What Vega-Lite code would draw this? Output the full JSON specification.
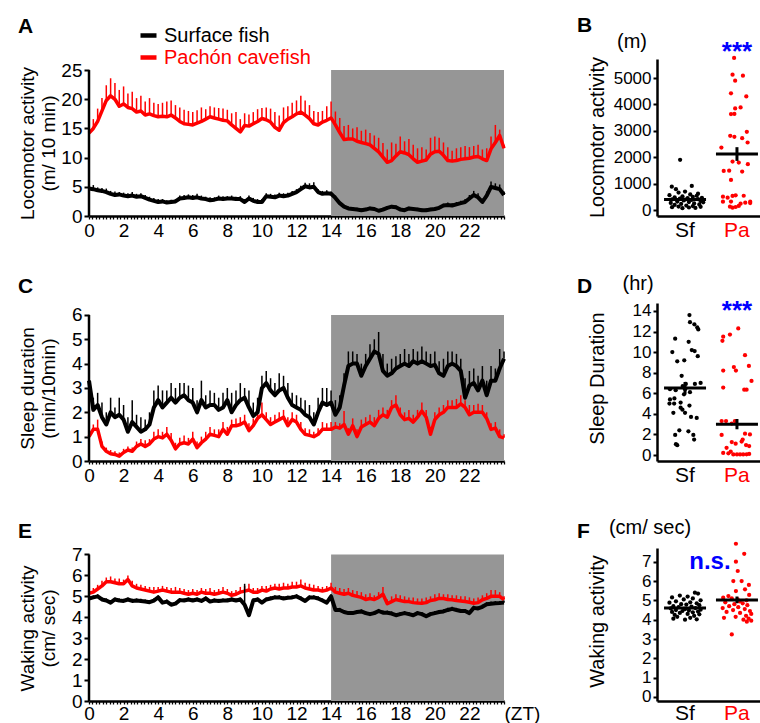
{
"$schema": "https://vega.github.io/schema/vega-lite/v6.json",
"padding": {"left": 17, "top": 14, "right": 0, "bottom": 0},
"background": "white",
"config": {
 "font": "Liberation Sans",
 "view": {"stroke": null},
 "axis": {"domainColor": "#000", "domainWidth": 2.5, "tickColor": "#000", "tickWidth": 2, "labelColor": "#000", "titleColor": "#000", "grid": false, "labelFont": "Liberation Sans", "titleFont": "Liberation Sans", "titleFontWeight": "normal", "labelFontSize": 19, "titleFontSize": 19, "labelOverlap": false},
 "text": {"font": "Liberation Sans"}
},
"columns": 2,
"spacing": {"row": 87, "column": 153},
"bounds": "flush",
"resolve": {"scale": {"color": "independent"}},
"datasets": {
"ts": [
{"t":0,"a":4.7,"au":5.1,"b":14.2,"bu":15.9,"c":3.3,"cu":3.6,"d":1.0,"du":1.2,"e":4.9,"eu":5.0,"f":5.15,"fu":5.35},
{"t":0.25,"a":4.6,"au":5.3,"b":15.0,"bu":16.6,"c":2.1,"cu":2.6,"d":1.3,"du":1.5,"e":4.95,"eu":5.05,"f":5.2,"fu":5.4},
{"t":0.5,"a":4.4,"au":4.9,"b":16.2,"bu":18.4,"c":2.3,"cu":2.8,"d":1.3,"du":1.7,"e":5.0,"eu":5.1,"f":5.35,"fu":5.55},
{"t":0.75,"a":4.3,"au":4.8,"b":18.0,"bu":20.2,"c":1.8,"cu":2.4,"d":0.6,"du":0.8,"e":4.85,"eu":4.95,"f":5.5,"fu":5.75},
{"t":1,"a":4.1,"au":4.7,"b":19.8,"bu":22.4,"c":1.5,"cu":2.0,"d":0.4,"du":0.55,"e":4.8,"eu":4.9,"f":5.7,"fu":5.9},
{"t":1.25,"a":3.8,"au":4.3,"b":20.6,"bu":23.6,"c":2.0,"cu":2.6,"d":0.3,"du":0.45,"e":4.7,"eu":4.8,"f":5.7,"fu":5.95},
{"t":1.5,"a":3.6,"au":4.2,"b":20.0,"bu":22.8,"c":1.8,"cu":2.2,"d":0.27,"du":0.4,"e":4.85,"eu":4.95,"f":5.65,"fu":5.85},
{"t":1.75,"a":3.7,"au":4.1,"b":18.8,"bu":21.6,"c":1.9,"cu":2.6,"d":0.2,"du":0.35,"e":4.8,"eu":4.9,"f":5.6,"fu":5.85},
{"t":2,"a":3.5,"au":4.0,"b":19.2,"bu":22.2,"c":1.7,"cu":2.3,"d":0.35,"du":0.5,"e":4.78,"eu":4.88,"f":5.6,"fu":5.8},
{"t":2.25,"a":3.4,"au":3.9,"b":18.6,"bu":21.0,"c":1.2,"cu":1.8,"d":0.45,"du":0.6,"e":4.85,"eu":4.95,"f":5.8,"fu":6.0},
{"t":2.5,"a":3.5,"au":4.1,"b":18.4,"bu":21.3,"c":1.6,"cu":2.5,"d":0.4,"du":0.55,"e":4.78,"eu":4.88,"f":5.5,"fu":5.75},
{"t":2.75,"a":3.3,"au":3.8,"b":17.8,"bu":20.2,"c":1.4,"cu":1.9,"d":0.6,"du":0.8,"e":4.8,"eu":4.9,"f":5.4,"fu":5.6},
{"t":3,"a":3.4,"au":3.9,"b":18.0,"bu":20.6,"c":1.2,"cu":1.8,"d":0.7,"du":0.9,"e":4.78,"eu":4.88,"f":5.35,"fu":5.55},
{"t":3.25,"a":3.1,"au":3.6,"b":17.3,"bu":19.6,"c":1.3,"cu":1.7,"d":0.6,"du":0.85,"e":4.75,"eu":4.85,"f":5.3,"fu":5.5},
{"t":3.5,"a":2.8,"au":3.3,"b":17.5,"bu":20.2,"c":1.5,"cu":2.0,"d":0.7,"du":0.9,"e":4.72,"eu":4.82,"f":5.25,"fu":5.45},
{"t":3.75,"a":2.6,"au":3.1,"b":17.2,"bu":19.4,"c":2.2,"cu":2.9,"d":0.9,"du":1.2,"e":4.8,"eu":4.9,"f":5.2,"fu":5.45},
{"t":4,"a":2.4,"au":2.9,"b":17.0,"bu":19.2,"c":2.5,"cu":3.1,"d":1.0,"du":1.3,"e":4.95,"eu":5.05,"f":5.25,"fu":5.45},
{"t":4.25,"a":2.5,"au":2.9,"b":17.1,"bu":19.4,"c":2.2,"cu":2.9,"d":0.95,"du":1.2,"e":4.7,"eu":4.8,"f":5.3,"fu":5.5},
{"t":4.5,"a":2.3,"au":2.7,"b":17.0,"bu":19.6,"c":2.4,"cu":2.9,"d":1.1,"du":1.4,"e":4.75,"eu":4.85,"f":5.25,"fu":5.45},
{"t":4.75,"a":2.4,"au":2.8,"b":17.3,"bu":19.8,"c":2.6,"cu":3.2,"d":0.85,"du":1.15,"e":4.6,"eu":4.7,"f":5.2,"fu":5.4},
{"t":5,"a":2.5,"au":2.9,"b":16.8,"bu":19.0,"c":2.4,"cu":3.0,"d":0.5,"du":0.75,"e":4.65,"eu":4.75,"f":5.2,"fu":5.45},
{"t":5.25,"a":3.0,"au":3.5,"b":16.2,"bu":18.6,"c":2.6,"cu":3.2,"d":0.7,"du":0.95,"e":4.82,"eu":4.92,"f":5.2,"fu":5.4},
{"t":5.5,"a":3.1,"au":3.6,"b":15.8,"bu":18.2,"c":2.7,"cu":3.2,"d":0.75,"du":1.05,"e":4.8,"eu":4.9,"f":5.15,"fu":5.35},
{"t":5.75,"a":3.2,"au":3.7,"b":15.7,"bu":18.0,"c":2.5,"cu":3.1,"d":0.7,"du":0.95,"e":4.85,"eu":4.95,"f":5.1,"fu":5.3},
{"t":6,"a":3.1,"au":3.6,"b":15.6,"bu":17.8,"c":2.4,"cu":3.0,"d":0.9,"du":1.2,"e":4.8,"eu":4.9,"f":5.15,"fu":5.35},
{"t":6.25,"a":3.2,"au":3.8,"b":15.9,"bu":18.1,"c":2.0,"cu":2.5,"d":0.55,"du":0.8,"e":4.85,"eu":4.95,"f":5.1,"fu":5.3},
{"t":6.5,"a":3.0,"au":3.5,"b":16.2,"bu":18.6,"c":2.5,"cu":3.3,"d":0.75,"du":1.0,"e":4.78,"eu":4.88,"f":5.2,"fu":5.4},
{"t":6.75,"a":2.9,"au":3.3,"b":16.6,"bu":18.3,"c":2.2,"cu":2.7,"d":0.9,"du":1.2,"e":4.9,"eu":5.0,"f":5.15,"fu":5.35},
{"t":7,"a":2.7,"au":3.2,"b":17.0,"bu":18.8,"c":2.3,"cu":2.9,"d":1.1,"du":1.4,"e":4.75,"eu":4.85,"f":5.15,"fu":5.4},
{"t":7.25,"a":2.8,"au":3.2,"b":16.8,"bu":18.6,"c":2.3,"cu":2.8,"d":1.05,"du":1.3,"e":4.8,"eu":4.9,"f":5.1,"fu":5.3},
{"t":7.5,"a":3.0,"au":3.5,"b":16.6,"bu":18.5,"c":2.1,"cu":2.6,"d":1.0,"du":1.3,"e":4.78,"eu":4.88,"f":5.15,"fu":5.35},
{"t":7.75,"a":2.9,"au":3.4,"b":16.4,"bu":18.4,"c":2.2,"cu":2.8,"d":1.3,"du":1.6,"e":4.8,"eu":4.9,"f":5.2,"fu":5.45},
{"t":8,"a":3.0,"au":3.4,"b":16.3,"bu":18.2,"c":2.5,"cu":3.0,"d":1.1,"du":1.4,"e":4.8,"eu":4.9,"f":5.15,"fu":5.35},
{"t":8.25,"a":3.0,"au":3.5,"b":15.6,"bu":17.6,"c":2.0,"cu":2.8,"d":1.45,"du":1.7,"e":4.85,"eu":4.95,"f":5.05,"fu":5.25},
{"t":8.5,"a":2.9,"au":3.3,"b":15.0,"bu":17.8,"c":2.3,"cu":2.9,"d":1.45,"du":1.75,"e":4.8,"eu":4.9,"f":5.1,"fu":5.3},
{"t":8.75,"a":2.9,"au":3.4,"b":14.4,"bu":16.6,"c":2.5,"cu":3.2,"d":1.5,"du":1.8,"e":4.85,"eu":4.95,"f":5.2,"fu":5.45},
{"t":9,"a":2.4,"au":2.9,"b":15.5,"bu":17.6,"c":2.6,"cu":3.0,"d":1.6,"du":1.9,"e":4.6,"eu":5.6,"f":5.25,"fu":5.5},
{"t":9.25,"a":3.0,"au":3.5,"b":15.4,"bu":17.4,"c":2.2,"cu":2.9,"d":1.25,"du":1.55,"e":4.1,"eu":4.3,"f":5.3,"fu":5.6},
{"t":9.5,"a":2.6,"au":3.1,"b":15.8,"bu":17.8,"c":1.85,"cu":2.4,"d":1.45,"du":1.75,"e":4.8,"eu":4.9,"f":5.2,"fu":5.4},
{"t":9.75,"a":2.4,"au":2.9,"b":16.2,"bu":18.3,"c":2.0,"cu":2.6,"d":1.75,"du":2.1,"e":4.85,"eu":4.95,"f":5.2,"fu":5.4},
{"t":10,"a":2.4,"au":2.9,"b":16.7,"bu":18.5,"c":3.0,"cu":3.5,"d":1.9,"du":2.4,"e":4.7,"eu":4.8,"f":5.3,"fu":5.5},
{"t":10.25,"a":3.4,"au":3.9,"b":16.5,"bu":18.6,"c":3.2,"cu":3.7,"d":1.7,"du":2.0,"e":4.85,"eu":4.95,"f":5.25,"fu":5.5},
{"t":10.5,"a":3.3,"au":3.8,"b":16.1,"bu":18.4,"c":2.9,"cu":3.4,"d":1.5,"du":1.8,"e":4.9,"eu":5.0,"f":5.35,"fu":5.55},
{"t":10.75,"a":3.2,"au":3.7,"b":15.2,"bu":17.8,"c":2.7,"cu":3.2,"d":1.6,"du":1.9,"e":4.95,"eu":5.05,"f":5.4,"fu":5.6},
{"t":11,"a":3.5,"au":4.0,"b":14.7,"bu":17.2,"c":2.9,"cu":3.6,"d":1.7,"du":2.0,"e":4.95,"eu":5.05,"f":5.35,"fu":5.6},
{"t":11.25,"a":3.4,"au":3.9,"b":16.0,"bu":18.6,"c":3.0,"cu":3.5,"d":1.8,"du":2.1,"e":4.9,"eu":5.0,"f":5.4,"fu":5.65},
{"t":11.5,"a":3.5,"au":4.0,"b":16.6,"bu":18.8,"c":2.6,"cu":3.2,"d":1.45,"du":1.8,"e":4.93,"eu":5.03,"f":5.4,"fu":5.6},
{"t":11.75,"a":3.8,"au":4.3,"b":17.0,"bu":19.4,"c":2.3,"cu":2.8,"d":1.7,"du":2.0,"e":4.95,"eu":5.05,"f":5.45,"fu":5.7},
{"t":12,"a":4.1,"au":4.6,"b":17.5,"bu":19.8,"c":2.2,"cu":2.7,"d":1.6,"du":1.9,"e":5.0,"eu":5.1,"f":5.45,"fu":5.7},
{"t":12.25,"a":4.6,"au":5.2,"b":17.8,"bu":20.6,"c":2.1,"cu":2.6,"d":1.3,"du":1.6,"e":4.9,"eu":5.0,"f":5.5,"fu":5.8},
{"t":12.5,"a":5.1,"au":5.7,"b":17.3,"bu":19.8,"c":1.9,"cu":2.5,"d":1.1,"du":1.35,"e":4.78,"eu":4.88,"f":5.4,"fu":5.65},
{"t":12.75,"a":4.9,"au":5.6,"b":16.7,"bu":19.0,"c":1.8,"cu":2.3,"d":1.05,"du":1.3,"e":4.95,"eu":5.05,"f":5.35,"fu":5.6},
{"t":13,"a":5.0,"au":5.8,"b":15.8,"bu":18.0,"c":1.5,"cu":2.0,"d":1.0,"du":1.2,"e":4.95,"eu":5.05,"f":5.3,"fu":5.55},
{"t":13.25,"a":4.1,"au":4.6,"b":15.6,"bu":17.8,"c":2.0,"cu":2.6,"d":1.1,"du":1.35,"e":4.9,"eu":5.0,"f":5.3,"fu":5.5},
{"t":13.5,"a":3.8,"au":4.3,"b":16.1,"bu":18.0,"c":2.4,"cu":3.0,"d":1.3,"du":1.6,"e":4.8,"eu":4.9,"f":5.25,"fu":5.45},
{"t":13.75,"a":3.9,"au":4.4,"b":16.4,"bu":18.8,"c":2.3,"cu":3.0,"d":1.3,"du":1.55,"e":4.7,"eu":4.8,"f":5.3,"fu":5.5},
{"t":14,"a":3.8,"au":4.2,"b":16.8,"bu":19.6,"c":2.4,"cu":2.9,"d":1.3,"du":1.6,"e":5.0,"eu":5.1,"f":5.4,"fu":5.65},
{"t":14.25,"a":3.1,"au":3.5,"b":15.6,"bu":17.9,"c":1.9,"cu":2.5,"d":1.4,"du":1.6,"e":4.35,"eu":4.45,"f":5.2,"fu":5.45},
{"t":14.5,"a":2.2,"au":2.5,"b":14.3,"bu":16.8,"c":2.2,"cu":2.7,"d":1.35,"du":1.55,"e":4.35,"eu":4.45,"f":5.15,"fu":5.4},
{"t":14.75,"a":1.6,"au":1.9,"b":13.1,"bu":15.4,"c":3.1,"cu":3.6,"d":1.5,"du":2.05,"e":4.25,"eu":4.35,"f":5.1,"fu":5.35},
{"t":15,"a":1.3,"au":1.6,"b":13.2,"bu":15.6,"c":3.9,"cu":4.5,"d":1.1,"du":1.35,"e":4.2,"eu":4.3,"f":5.15,"fu":5.4},
{"t":15.25,"a":1.2,"au":1.5,"b":13.2,"bu":15.0,"c":4.0,"cu":4.5,"d":1.45,"du":1.75,"e":4.2,"eu":4.3,"f":5.05,"fu":5.3},
{"t":15.5,"a":1.1,"au":1.4,"b":12.8,"bu":15.2,"c":4.0,"cu":4.4,"d":1.0,"du":1.3,"e":4.25,"eu":4.35,"f":5.0,"fu":5.25},
{"t":15.75,"a":1.0,"au":1.3,"b":12.6,"bu":14.6,"c":3.5,"cu":4.0,"d":1.4,"du":1.7,"e":4.28,"eu":4.38,"f":4.95,"fu":5.2},
{"t":16,"a":1.1,"au":1.4,"b":12.4,"bu":14.8,"c":3.9,"cu":4.4,"d":1.5,"du":1.8,"e":4.2,"eu":4.3,"f":4.85,"fu":5.1},
{"t":16.25,"a":1.3,"au":1.6,"b":12.2,"bu":14.2,"c":4.2,"cu":4.8,"d":1.6,"du":1.9,"e":4.15,"eu":4.25,"f":4.9,"fu":5.15},
{"t":16.5,"a":1.2,"au":1.5,"b":11.6,"bu":13.8,"c":4.5,"cu":5.0,"d":1.45,"du":1.8,"e":4.2,"eu":4.3,"f":4.85,"fu":5.05},
{"t":16.75,"a":0.9,"au":1.2,"b":11.0,"bu":13.4,"c":4.4,"cu":5.3,"d":1.75,"du":2.1,"e":4.3,"eu":4.4,"f":4.95,"fu":5.2},
{"t":17,"a":1.1,"au":1.4,"b":10.1,"bu":12.5,"c":3.7,"cu":4.4,"d":1.9,"du":2.2,"e":4.22,"eu":4.32,"f":5.1,"fu":5.45},
{"t":17.25,"a":1.4,"au":1.7,"b":9.2,"bu":11.4,"c":3.5,"cu":4.0,"d":1.8,"du":2.1,"e":4.22,"eu":4.32,"f":4.65,"fu":4.85},
{"t":17.5,"a":1.6,"au":1.9,"b":9.5,"bu":12.6,"c":3.6,"cu":4.2,"d":2.2,"du":2.5,"e":4.18,"eu":4.28,"f":4.75,"fu":5.0},
{"t":17.75,"a":1.5,"au":1.8,"b":10.3,"bu":12.4,"c":3.8,"cu":4.3,"d":2.3,"du":2.7,"e":4.1,"eu":4.2,"f":4.85,"fu":5.1},
{"t":18,"a":1.1,"au":1.4,"b":11.0,"bu":13.6,"c":3.9,"cu":4.4,"d":1.9,"du":2.2,"e":4.15,"eu":4.25,"f":4.8,"fu":5.05},
{"t":18.25,"a":1.0,"au":1.3,"b":10.8,"bu":12.8,"c":4.0,"cu":4.6,"d":1.7,"du":2.0,"e":4.2,"eu":4.3,"f":4.75,"fu":5.0},
{"t":18.5,"a":1.3,"au":1.6,"b":10.5,"bu":13.2,"c":3.9,"cu":4.4,"d":1.75,"du":2.1,"e":4.15,"eu":4.25,"f":4.75,"fu":4.95},
{"t":18.75,"a":1.2,"au":1.5,"b":9.8,"bu":12.2,"c":4.1,"cu":4.6,"d":1.6,"du":1.9,"e":4.1,"eu":4.2,"f":4.7,"fu":4.95},
{"t":19,"a":1.1,"au":1.4,"b":9.2,"bu":11.6,"c":4.0,"cu":4.5,"d":1.8,"du":2.1,"e":4.2,"eu":4.3,"f":4.68,"fu":4.9},
{"t":19.25,"a":1.0,"au":1.3,"b":9.4,"bu":11.8,"c":4.1,"cu":4.7,"d":2.05,"du":2.4,"e":4.15,"eu":4.25,"f":4.67,"fu":4.9},
{"t":19.5,"a":1.0,"au":1.3,"b":9.6,"bu":11.4,"c":4.0,"cu":4.5,"d":1.8,"du":2.1,"e":4.05,"eu":4.15,"f":4.7,"fu":4.95},
{"t":19.75,"a":1.1,"au":1.4,"b":10.6,"bu":13.4,"c":3.9,"cu":4.4,"d":1.1,"du":1.4,"e":4.15,"eu":4.25,"f":4.8,"fu":5.0},
{"t":20,"a":1.2,"au":1.5,"b":11.0,"bu":13.6,"c":3.95,"cu":4.5,"d":1.7,"du":2.0,"e":4.2,"eu":4.3,"f":4.84,"fu":5.1},
{"t":20.25,"a":1.4,"au":1.7,"b":11.1,"bu":13.4,"c":3.6,"cu":4.1,"d":1.9,"du":2.2,"e":4.25,"eu":4.35,"f":4.9,"fu":5.15},
{"t":20.5,"a":1.8,"au":2.1,"b":10.4,"bu":12.6,"c":3.5,"cu":4.2,"d":2.0,"du":2.3,"e":4.28,"eu":4.38,"f":4.9,"fu":5.1},
{"t":20.75,"a":1.9,"au":2.3,"b":9.5,"bu":11.8,"c":3.9,"cu":4.5,"d":2.2,"du":2.5,"e":4.35,"eu":4.45,"f":4.85,"fu":5.1},
{"t":21,"a":1.8,"au":2.2,"b":9.4,"bu":11.2,"c":4.0,"cu":4.5,"d":2.2,"du":2.5,"e":4.4,"eu":4.5,"f":4.84,"fu":5.05},
{"t":21.25,"a":2.0,"au":2.4,"b":9.5,"bu":11.6,"c":3.9,"cu":4.4,"d":2.2,"du":2.55,"e":4.35,"eu":4.45,"f":4.8,"fu":5.05},
{"t":21.5,"a":2.2,"au":2.6,"b":9.7,"bu":11.8,"c":3.7,"cu":4.2,"d":2.35,"du":2.7,"e":4.3,"eu":4.4,"f":4.78,"fu":5.0},
{"t":21.75,"a":2.4,"au":2.9,"b":9.8,"bu":12.0,"c":2.6,"cu":3.4,"d":2.2,"du":2.5,"e":4.3,"eu":4.4,"f":4.75,"fu":5.0},
{"t":22,"a":3.0,"au":3.6,"b":9.9,"bu":11.8,"c":3.1,"cu":3.7,"d":1.9,"du":2.3,"e":4.2,"eu":4.3,"f":4.72,"fu":4.95},
{"t":22.25,"a":3.6,"au":4.3,"b":10.1,"bu":12.0,"c":3.2,"cu":3.8,"d":2.0,"du":2.3,"e":4.45,"eu":4.55,"f":4.67,"fu":4.9},
{"t":22.5,"a":3.2,"au":3.9,"b":10.2,"bu":12.2,"c":2.9,"cu":3.5,"d":2.0,"du":2.35,"e":4.42,"eu":4.52,"f":4.7,"fu":4.95},
{"t":22.75,"a":2.4,"au":3.0,"b":9.8,"bu":11.4,"c":3.3,"cu":3.9,"d":2.0,"du":2.3,"e":4.5,"eu":4.6,"f":4.84,"fu":5.05},
{"t":23,"a":3.5,"au":4.2,"b":9.5,"bu":11.6,"c":2.7,"cu":3.3,"d":1.75,"du":2.0,"e":4.62,"eu":4.72,"f":4.9,"fu":5.15},
{"t":23.25,"a":5.0,"au":5.9,"b":11.5,"bu":13.6,"c":3.3,"cu":3.9,"d":1.3,"du":1.55,"e":4.65,"eu":4.75,"f":5.0,"fu":5.3},
{"t":23.5,"a":4.8,"au":5.6,"b":12.6,"bu":15.6,"c":3.3,"cu":3.8,"d":1.35,"du":1.6,"e":4.67,"eu":4.77,"f":5.0,"fu":5.3},
{"t":23.75,"a":4.6,"au":5.4,"b":13.8,"bu":14.8,"c":3.8,"cu":4.6,"d":1.0,"du":1.3,"e":4.68,"eu":4.78,"f":5.0,"fu":5.2},
{"t":24,"a":3.6,"au":4.2,"b":11.6,"bu":12.2,"c":4.2,"cu":4.5,"d":0.95,"du":1.1,"e":4.7,"eu":4.8,"f":4.84,"fu":5.0}
],
"dots": [
{"p":"B","g":"Sf","v":1900,"j":-0.19},{"p":"B","g":"Sf","v":910,"j":0.26},{"p":"B","g":"Sf","v":885,"j":-0.51},{"p":"B","g":"Sf","v":790,"j":-0.35},{"p":"B","g":"Sf","v":700,"j":0.0},{"p":"B","g":"Sf","v":660,"j":-0.25},{"p":"B","g":"Sf","v":620,"j":0.5},{"p":"B","g":"Sf","v":590,"j":0.2},{"p":"B","g":"Sf","v":560,"j":-0.6},{"p":"B","g":"Sf","v":540,"j":0.45},{"p":"B","g":"Sf","v":520,"j":-0.1},{"p":"B","g":"Sf","v":500,"j":0.3},{"p":"B","g":"Sf","v":480,"j":-0.4},{"p":"B","g":"Sf","v":460,"j":0.65},{"p":"B","g":"Sf","v":450,"j":0.1},{"p":"B","g":"Sf","v":430,"j":-0.2},{"p":"B","g":"Sf","v":410,"j":0.5},{"p":"B","g":"Sf","v":400,"j":-0.5},{"p":"B","g":"Sf","v":380,"j":0.25},{"p":"B","g":"Sf","v":360,"j":-0.05},{"p":"B","g":"Sf","v":340,"j":0.6},{"p":"B","g":"Sf","v":320,"j":-0.3},{"p":"B","g":"Sf","v":300,"j":0.15},{"p":"B","g":"Sf","v":290,"j":0.7},{"p":"B","g":"Sf","v":270,"j":-0.55},{"p":"B","g":"Sf","v":250,"j":0.35},{"p":"B","g":"Sf","v":230,"j":-0.15},{"p":"B","g":"Sf","v":210,"j":0.55},{"p":"B","g":"Sf","v":190,"j":-0.4},{"p":"B","g":"Sf","v":170,"j":0.05},{"p":"B","g":"Sf","v":150,"j":0.3},{"p":"B","g":"Sf","v":130,"j":-0.25},{"p":"B","g":"Sf","v":120,"j":0.6},{"p":"B","g":"Sf","v":105,"j":-0.5},{"p":"B","g":"Sf","v":95,"j":0.15},{"p":"B","g":"Sf","v":80,"j":0.4},{"p":"B","g":"Sf","v":70,"j":-0.1},
{"p":"B","g":"Pa","v":5760,"j":-0.11},{"p":"B","g":"Pa","v":5127,"j":-0.17},{"p":"B","g":"Pa","v":5089,"j":0.23},{"p":"B","g":"Pa","v":4900,"j":-0.07},{"p":"B","g":"Pa","v":4418,"j":-0.23},{"p":"B","g":"Pa","v":4304,"j":0.36},{"p":"B","g":"Pa","v":3886,"j":0.14},{"p":"B","g":"Pa","v":3848,"j":-0.07},{"p":"B","g":"Pa","v":3633,"j":-0.23},{"p":"B","g":"Pa","v":3640,"j":-0.1},{"p":"B","g":"Pa","v":2962,"j":0.38},{"p":"B","g":"Pa","v":2810,"j":-0.26},{"p":"B","g":"Pa","v":2772,"j":-0.1},{"p":"B","g":"Pa","v":2722,"j":0.2},{"p":"B","g":"Pa","v":2367,"j":-0.6},{"p":"B","g":"Pa","v":2557,"j":0.41},{"p":"B","g":"Pa","v":1835,"j":-0.17},{"p":"B","g":"Pa","v":1798,"j":0.07},{"p":"B","g":"Pa","v":1734,"j":0.42},{"p":"B","g":"Pa","v":1481,"j":-0.51},{"p":"B","g":"Pa","v":1490,"j":-0.3},{"p":"B","g":"Pa","v":1456,"j":0.2},{"p":"B","g":"Pa","v":1139,"j":-0.23},{"p":"B","g":"Pa","v":532,"j":-0.17},{"p":"B","g":"Pa","v":506,"j":-0.54},{"p":"B","g":"Pa","v":468,"j":-0.36},{"p":"B","g":"Pa","v":557,"j":-0.05},{"p":"B","g":"Pa","v":540,"j":0.26},{"p":"B","g":"Pa","v":316,"j":-0.54},{"p":"B","g":"Pa","v":320,"j":-0.23},{"p":"B","g":"Pa","v":240,"j":0.14},{"p":"B","g":"Pa","v":278,"j":0.32},{"p":"B","g":"Pa","v":316,"j":0.51},{"p":"B","g":"Pa","v":265,"j":0.51},{"p":"B","g":"Pa","v":127,"j":-0.27},{"p":"B","g":"Pa","v":89,"j":-0.17},{"p":"B","g":"Pa","v":114,"j":-0.05},{"p":"B","g":"Pa","v":152,"j":0.07},
{"p":"D","g":"Sf","v":13.6,"j":0.17},{"p":"D","g":"Sf","v":12.9,"j":0.19},{"p":"D","g":"Sf","v":12.7,"j":0.36},{"p":"D","g":"Sf","v":12.4,"j":0.47},{"p":"D","g":"Sf","v":12.2,"j":0.51},{"p":"D","g":"Sf","v":11.3,"j":-0.38},{"p":"D","g":"Sf","v":11.0,"j":0.14},{"p":"D","g":"Sf","v":10.0,"j":-0.49},{"p":"D","g":"Sf","v":10.2,"j":0.26},{"p":"D","g":"Sf","v":10.1,"j":0.37},{"p":"D","g":"Sf","v":9.6,"j":0.49},{"p":"D","g":"Sf","v":9.1,"j":-0.3},{"p":"D","g":"Sf","v":9.2,"j":-0.03},{"p":"D","g":"Sf","v":7.7,"j":-0.13},{"p":"D","g":"Sf","v":7.0,"j":0.6},{"p":"D","g":"Sf","v":6.9,"j":0.38},{"p":"D","g":"Sf","v":6.9,"j":0.03},{"p":"D","g":"Sf","v":6.7,"j":-0.09},{"p":"D","g":"Sf","v":6.4,"j":0.0},{"p":"D","g":"Sf","v":6.3,"j":-0.36},{"p":"D","g":"Sf","v":6.4,"j":-0.58},{"p":"D","g":"Sf","v":6.1,"j":0.19},{"p":"D","g":"Sf","v":5.9,"j":-0.04},{"p":"D","g":"Sf","v":5.5,"j":-0.41},{"p":"D","g":"Sf","v":5.4,"j":-0.58},{"p":"D","g":"Sf","v":5.0,"j":-0.6},{"p":"D","g":"Sf","v":5.0,"j":-0.42},{"p":"D","g":"Sf","v":5.1,"j":-0.17},{"p":"D","g":"Sf","v":4.8,"j":0.17},{"p":"D","g":"Sf","v":4.6,"j":-0.17},{"p":"D","g":"Sf","v":4.4,"j":-0.1},{"p":"D","g":"Sf","v":4.1,"j":-0.45},{"p":"D","g":"Sf","v":4.1,"j":0.0},{"p":"D","g":"Sf","v":3.7,"j":0.23},{"p":"D","g":"Sf","v":3.6,"j":0.45},{"p":"D","g":"Sf","v":2.4,"j":-0.22},{"p":"D","g":"Sf","v":2.3,"j":0.13},{"p":"D","g":"Sf","v":1.95,"j":-0.38},{"p":"D","g":"Sf","v":1.95,"j":0.32},{"p":"D","g":"Sf","v":1.05,"j":-0.35},{"p":"D","g":"Sf","v":0.95,"j":-0.3},{"p":"D","g":"Sf","v":1.5,"j":0.35},
{"p":"D","g":"Pa","v":12.3,"j":0.05},{"p":"D","g":"Pa","v":11.7,"j":-0.27},{"p":"D","g":"Pa","v":11.5,"j":-0.53},{"p":"D","g":"Pa","v":11.1,"j":-0.56},{"p":"D","g":"Pa","v":9.7,"j":0.31},{"p":"D","g":"Pa","v":8.2,"j":-0.53},{"p":"D","g":"Pa","v":8.55,"j":-0.12},{"p":"D","g":"Pa","v":8.2,"j":-0.04},{"p":"D","g":"Pa","v":8.65,"j":0.46},{"p":"D","g":"Pa","v":7.2,"j":0.56},{"p":"D","g":"Pa","v":6.55,"j":-0.53},{"p":"D","g":"Pa","v":6.35,"j":0.28},{"p":"D","g":"Pa","v":6.35,"j":0.37},{"p":"D","g":"Pa","v":3.3,"j":-0.59},{"p":"D","g":"Pa","v":3.3,"j":-0.42},{"p":"D","g":"Pa","v":3.05,"j":-0.2},{"p":"D","g":"Pa","v":3.3,"j":-0.08},{"p":"D","g":"Pa","v":1.95,"j":-0.59},{"p":"D","g":"Pa","v":2.07,"j":0.31},{"p":"D","g":"Pa","v":2.0,"j":0.5},{"p":"D","g":"Pa","v":1.5,"j":0.22},{"p":"D","g":"Pa","v":1.26,"j":-0.2},{"p":"D","g":"Pa","v":1.1,"j":-0.05},{"p":"D","g":"Pa","v":1.3,"j":0.18},{"p":"D","g":"Pa","v":0.97,"j":0.35},{"p":"D","g":"Pa","v":0.87,"j":0.47},{"p":"D","g":"Pa","v":0.7,"j":-0.4},{"p":"D","g":"Pa","v":0.32,"j":-0.24},{"p":"D","g":"Pa","v":0.16,"j":-0.33},{"p":"D","g":"Pa","v":0.06,"j":-0.14},{"p":"D","g":"Pa","v":0.05,"j":0.0},{"p":"D","g":"Pa","v":0.06,"j":0.12},{"p":"D","g":"Pa","v":0.05,"j":0.24},{"p":"D","g":"Pa","v":0.07,"j":0.37},{"p":"D","g":"Pa","v":0.1,"j":0.47},{"p":"D","g":"Pa","v":0.2,"j":-0.53},
{"p":"F","g":"Sf","v":5.4,"j":0.38},{"p":"F","g":"Sf","v":5.35,"j":0.5},{"p":"F","g":"Sf","v":5.25,"j":-0.2},{"p":"F","g":"Sf","v":5.2,"j":0.1},{"p":"F","g":"Sf","v":5.15,"j":-0.5},{"p":"F","g":"Sf","v":5.1,"j":0.3},{"p":"F","g":"Sf","v":5.05,"j":-0.05},{"p":"F","g":"Sf","v":5.0,"j":0.6},{"p":"F","g":"Sf","v":4.95,"j":-0.35},{"p":"F","g":"Sf","v":4.9,"j":0.2},{"p":"F","g":"Sf","v":4.88,"j":-0.6},{"p":"F","g":"Sf","v":4.85,"j":0.45},{"p":"F","g":"Sf","v":4.8,"j":-0.15},{"p":"F","g":"Sf","v":4.78,"j":0.05},{"p":"F","g":"Sf","v":4.75,"j":0.55},{"p":"F","g":"Sf","v":4.7,"j":-0.45},{"p":"F","g":"Sf","v":4.68,"j":0.25},{"p":"F","g":"Sf","v":4.65,"j":-0.25},{"p":"F","g":"Sf","v":4.6,"j":0.4},{"p":"F","g":"Sf","v":4.58,"j":-0.55},{"p":"F","g":"Sf","v":4.55,"j":0.0},{"p":"F","g":"Sf","v":4.52,"j":0.6},{"p":"F","g":"Sf","v":4.5,"j":-0.35},{"p":"F","g":"Sf","v":4.48,"j":0.15},{"p":"F","g":"Sf","v":4.45,"j":-0.1},{"p":"F","g":"Sf","v":4.42,"j":0.5},{"p":"F","g":"Sf","v":4.4,"j":-0.5},{"p":"F","g":"Sf","v":4.38,"j":0.3},{"p":"F","g":"Sf","v":4.35,"j":-0.2},{"p":"F","g":"Sf","v":4.3,"j":0.1},{"p":"F","g":"Sf","v":4.28,"j":0.55},{"p":"F","g":"Sf","v":4.25,"j":-0.4},{"p":"F","g":"Sf","v":4.2,"j":0.35},{"p":"F","g":"Sf","v":4.15,"j":-0.3},{"p":"F","g":"Sf","v":4.1,"j":0.2},{"p":"F","g":"Sf","v":4.05,"j":-0.45},{"p":"F","g":"Sf","v":4.0,"j":0.0},{"p":"F","g":"Sf","v":4.02,"j":0.45},
{"p":"F","g":"Pa","v":7.93,"j":-0.04},{"p":"F","g":"Pa","v":7.41,"j":0.28},{"p":"F","g":"Pa","v":7.0,"j":-0.04},{"p":"F","g":"Pa","v":6.52,"j":0.03},{"p":"F","g":"Pa","v":6.0,"j":-0.14},{"p":"F","g":"Pa","v":6.0,"j":0.18},{"p":"F","g":"Pa","v":5.8,"j":0.46},{"p":"F","g":"Pa","v":5.57,"j":0.31},{"p":"F","g":"Pa","v":5.48,"j":-0.04},{"p":"F","g":"Pa","v":5.22,"j":-0.33},{"p":"F","g":"Pa","v":5.14,"j":-0.53},{"p":"F","g":"Pa","v":5.28,"j":0.47},{"p":"F","g":"Pa","v":5.05,"j":0.03},{"p":"F","g":"Pa","v":5.0,"j":0.37},{"p":"F","g":"Pa","v":5.1,"j":-0.2},{"p":"F","g":"Pa","v":4.95,"j":0.1},{"p":"F","g":"Pa","v":4.9,"j":-0.45},{"p":"F","g":"Pa","v":4.85,"j":0.22},{"p":"F","g":"Pa","v":4.8,"j":-0.1},{"p":"F","g":"Pa","v":4.75,"j":0.4},{"p":"F","g":"Pa","v":4.7,"j":-0.3},{"p":"F","g":"Pa","v":4.65,"j":0.05},{"p":"F","g":"Pa","v":4.6,"j":-0.55},{"p":"F","g":"Pa","v":4.55,"j":0.3},{"p":"F","g":"Pa","v":4.5,"j":-0.15},{"p":"F","g":"Pa","v":4.45,"j":0.5},{"p":"F","g":"Pa","v":4.4,"j":-0.4},{"p":"F","g":"Pa","v":4.35,"j":0.12},{"p":"F","g":"Pa","v":4.2,"j":0.35},{"p":"F","g":"Pa","v":4.1,"j":-0.5},{"p":"F","g":"Pa","v":4.05,"j":0.45},{"p":"F","g":"Pa","v":4.0,"j":0.25},{"p":"F","g":"Pa","v":3.95,"j":0.55},{"p":"F","g":"Pa","v":3.9,"j":0.38},{"p":"F","g":"Pa","v":3.24,"j":-0.2},{"p":"F","g":"Pa","v":4.15,"j":-0.05},{"p":"F","g":"Pa","v":4.3,"j":0.55}
],
"means": [
{"p":"B","g":"Sf","m":400,"lo":330,"hi":470},{"p":"B","g":"Pa","m":2120,"lo":1860,"hi":2380},
{"p":"D","g":"Sf","m":6.5,"lo":5.9,"hi":7.1},{"p":"D","g":"Pa","m":3.0,"lo":2.5,"hi":3.5},
{"p":"F","g":"Sf","m":4.6,"lo":4.53,"hi":4.67},{"p":"F","g":"Pa","m":5.02,"lo":4.85,"hi":5.2}
]
},
"concat": [
{
 "width": 415, "height": 157,
 "layer": [
  {"data": {"values": [{"s": 14, "e": 24, "lo": 0, "hi": 25}]}, "mark": {"type": "rect", "color": "#969696"},
   "encoding": {
    "x": {"field": "s", "type": "quantitative", "scale": {"domain": [0, 24], "nice": false}, "axis": {"title": null, "tickCount": 120, "labelExpr": "datum.value % 2 === 0 && datum.value < 24 ? '' + datum.value : ''", "labelOverlap": false, "labelFlush": false, "tickSize": 3, "tickWidth": 1.3, "labelPadding": 2}},
    "x2": {"field": "e"},
    "y": {"field": "lo", "type": "quantitative", "scale": {"domain": [0, 26.9], "nice": false}, "axis": {"values": [0, 5, 10, 15, 20, 25], "format": "d", "tickCount": 30, "labelOverlap": false, "domain": false, "tickSize": 5, "labelPadding": 2, "title": ["Locomotor activity", "(m/ 10 min)"], "titleX": -62, "titleY": 84, "titleAngle": -90, "titleAlign": "center", "titleBaseline": "middle", "titleLineHeight": 21}},
    "y2": {"field": "hi"}}},
  {"data": {"name": "ts"}, "mark": {"type": "rule", "strokeWidth": 1.5},
   "encoding": {"x": {"field": "t", "type": "quantitative"}, "y": {"field": "a", "type": "quantitative"}, "y2": {"field": "au"},
    "color": {"datum": "Surface fish", "type": "nominal", "scale": {"domain": ["Surface fish", "Pachón cavefish"], "range": ["#000000", "#ff0000"]},
     "legend": {"orient": "none", "legendX": 49, "legendY": -34, "title": null, "symbolType": "stroke", "symbolSize": 256, "symbolStrokeWidth": 4.5, "labelFontSize": 20, "labelFont": "Liberation Sans", "labelOffset": 5, "rowPadding": 1,
      "encode": {"labels": {"update": {"fill": {"signal": "datum.value === 'Surface fish' ? '#000000' : '#ff0000'"}}}}}}}},
  {"data": {"name": "ts"}, "mark": {"type": "line", "strokeWidth": 4, "strokeJoin": "round"},
   "encoding": {"x": {"field": "t", "type": "quantitative"}, "y": {"field": "a", "type": "quantitative"}, "color": {"datum": "Surface fish", "type": "nominal"}}},
  {"data": {"name": "ts"}, "mark": {"type": "rule", "strokeWidth": 1.5},
   "encoding": {"x": {"field": "t", "type": "quantitative"}, "y": {"field": "b", "type": "quantitative"}, "y2": {"field": "bu"}, "color": {"datum": "Pachón cavefish", "type": "nominal"}}},
  {"data": {"name": "ts"}, "mark": {"type": "line", "strokeWidth": 3.5, "strokeJoin": "round"},
   "encoding": {"x": {"field": "t", "type": "quantitative"}, "y": {"field": "b", "type": "quantitative"}, "color": {"datum": "Pachón cavefish", "type": "nominal"}}},
  {"data": {"values": [{"lo": 0, "hi": 25}]}, "mark": {"type": "rule", "color": "#000", "strokeWidth": 2.5},
   "encoding": {"x": {"datum": 0}, "y": {"field": "lo", "type": "quantitative"}, "y2": {"field": "hi"}}},
  {"data": {"values": [{"s": "A"}]}, "mark": {"type": "text", "fontSize": 21, "fontWeight": "bold", "color": "#000", "align": "left", "baseline": "alphabetic", "dx": -71},
   "encoding": {"x": {"datum": 0}, "y": {"datum": 31.44}, "text": {"field": "s"}}}
 ]
},
{
 "width": 108, "height": 157,
 "layer": [
  {"data": {"name": "dots"}, "transform": [{"filter": "datum.p === 'B'"}], "mark": {"type": "circle", "size": 18, "opacity": 1},
   "encoding": {
    "x": {"field": "g", "type": "nominal", "sort": ["Sf", "Pa"], "scale": {"domain": ["Sf", "Pa"], "paddingInner": 0, "paddingOuter": 0.04}, "axis": {"title": null, "ticks": false, "labelAngle": 0, "labelPadding": 3, "labelFontSize": 21, "labelColor": {"condition": {"test": "datum.value === 'Pa'", "value": "#ff0000"}, "value": "#000000"}}},
    "xOffset": {"field": "j", "type": "quantitative", "scale": {"domain": [-1, 1]}},
    "y": {"field": "v", "type": "quantitative", "scale": {"domain": [-227, 5720], "nice": false, "zero": false}, "axis": {"values": [0, 1000, 2000, 3000, 4000, 5000], "tickCount": 30, "labelOverlap": false, "format": "d", "tickSize": 4, "labelFontSize": 17, "labelPadding": 2, "title": "Locomotor activity", "titleFontSize": 20, "titleX": -60, "titleY": 78, "titleAngle": -90, "titleAlign": "center", "titleBaseline": "middle"}},
    "color": {"field": "g", "type": "nominal", "scale": {"domain": ["Sf", "Pa"], "range": ["#000000", "#ff0000"]}, "legend": null}}},
  {"data": {"name": "means"}, "transform": [{"filter": "datum.p === 'B'"}], "mark": {"type": "tick", "color": "#000", "opacity": 1, "size": 42, "thickness": 3},
   "encoding": {"x": {"field": "g", "type": "nominal"}, "y": {"field": "m", "type": "quantitative"}}},
  {"data": {"name": "means"}, "transform": [{"filter": "datum.p === 'B'"}], "mark": {"type": "rule", "color": "#000", "strokeWidth": 3},
   "encoding": {"x": {"field": "g", "type": "nominal"}, "y": {"field": "lo", "type": "quantitative"}, "y2": {"field": "hi"}}},
  {"data": {"values": [{"s": "***"}]}, "mark": {"type": "text", "color": "#0000ff", "fontSize": 26, "fontWeight": "bold", "baseline": "alphabetic"},
   "encoding": {"x": {"datum": "Pa"}, "y": {"datum": 5683}, "text": {"field": "s"}}},
  {"data": {"values": [{"s": "(m)"}]}, "mark": {"type": "text", "color": "#000", "fontSize": 20, "baseline": "alphabetic", "dx": -53},
   "encoding": {"x": {"datum": "Sf"}, "y": {"datum": 6137}, "text": {"field": "s"}}},
  {"data": {"values": [{"s": "B"}]}, "mark": {"type": "text", "fontSize": 21, "fontWeight": "bold", "color": "#000", "align": "left", "baseline": "alphabetic", "dx": -108},
   "encoding": {"x": {"datum": "Sf"}, "y": {"datum": 6754}, "text": {"field": "s"}}}
 ]
},
{
 "width": 415, "height": 158,
 "layer": [
  {"data": {"values": [{"s": 14, "e": 24, "lo": 0, "hi": 6}]}, "mark": {"type": "rect", "color": "#969696"},
   "encoding": {
    "x": {"field": "s", "type": "quantitative", "scale": {"domain": [0, 24], "nice": false}, "axis": {"title": null, "tickCount": 120, "labelExpr": "datum.value % 2 === 0 && datum.value < 24 ? '' + datum.value : ''", "labelOverlap": false, "labelFlush": false, "tickSize": 3, "tickWidth": 1.3, "labelPadding": 2}},
    "x2": {"field": "e"},
    "y": {"field": "lo", "type": "quantitative", "scale": {"domain": [0, 6.49], "nice": false}, "axis": {"values": [0, 1, 2, 3, 4, 5, 6], "format": "d", "tickCount": 30, "labelOverlap": false, "domain": false, "tickSize": 5, "labelPadding": 2, "title": ["Sleep duration", "(min/10min)"], "titleX": -62, "titleY": 85, "titleAngle": -90, "titleAlign": "center", "titleBaseline": "middle", "titleLineHeight": 21}},
    "y2": {"field": "hi"}}},
  {"data": {"name": "ts"}, "mark": {"type": "rule", "strokeWidth": 1.5},
   "encoding": {"x": {"field": "t", "type": "quantitative"}, "y": {"field": "c", "type": "quantitative"}, "y2": {"field": "cu"},
    "color": {"datum": "Surface fish", "type": "nominal", "scale": {"domain": ["Surface fish", "Pachón cavefish"], "range": ["#000000", "#ff0000"]}, "legend": null}}},
  {"data": {"name": "ts"}, "mark": {"type": "rule", "strokeWidth": 1.5},
   "encoding": {"x": {"field": "t", "type": "quantitative"}, "y": {"field": "d", "type": "quantitative"}, "y2": {"field": "du"}, "color": {"datum": "Pachón cavefish", "type": "nominal"}}},
  {"data": {"name": "ts"}, "mark": {"type": "line", "strokeWidth": 3.5, "strokeJoin": "round"},
   "encoding": {"x": {"field": "t", "type": "quantitative"}, "y": {"field": "d", "type": "quantitative"}, "color": {"datum": "Pachón cavefish", "type": "nominal"}}},
  {"data": {"name": "ts"}, "mark": {"type": "line", "strokeWidth": 4, "strokeJoin": "round"},
   "encoding": {"x": {"field": "t", "type": "quantitative"}, "y": {"field": "c", "type": "quantitative"}, "color": {"datum": "Surface fish", "type": "nominal"}}},
  {"data": {"values": [{"lo": 0, "hi": 6}]}, "mark": {"type": "rule", "color": "#000", "strokeWidth": 2.5},
   "encoding": {"x": {"datum": 0}, "y": {"field": "lo", "type": "quantitative"}, "y2": {"field": "hi"}}},
  {"data": {"values": [{"s": "C"}]}, "mark": {"type": "text", "fontSize": 21, "fontWeight": "bold", "color": "#000", "align": "left", "baseline": "alphabetic", "dx": -71},
   "encoding": {"x": {"datum": 0}, "y": {"datum": 6.913}, "text": {"field": "s"}}}
 ]
},
{
 "width": 108, "height": 158,
 "layer": [
  {"data": {"name": "dots"}, "transform": [{"filter": "datum.p === 'D'"}], "mark": {"type": "circle", "size": 18, "opacity": 1},
   "encoding": {
    "x": {"field": "g", "type": "nominal", "sort": ["Sf", "Pa"], "scale": {"domain": ["Sf", "Pa"], "paddingInner": 0, "paddingOuter": 0.04}, "axis": {"title": null, "ticks": false, "labelAngle": 0, "labelPadding": 3, "labelFontSize": 21, "labelColor": {"condition": {"test": "datum.value === 'Pa'", "value": "#ff0000"}, "value": "#000000"}}},
    "xOffset": {"field": "j", "type": "quantitative", "scale": {"domain": [-1, 1]}},
    "y": {"field": "v", "type": "quantitative", "scale": {"domain": [-0.583, 14.77], "nice": false, "zero": false}, "axis": {"values": [0, 2, 4, 6, 8, 10, 12, 14], "format": "d", "tickCount": 30, "labelOverlap": false, "tickSize": 4, "labelFontSize": 17, "labelPadding": 2, "title": "Sleep Duration", "titleFontSize": 20, "titleX": -60, "titleY": 75, "titleAngle": -90, "titleAlign": "center", "titleBaseline": "middle"}},
    "color": {"field": "g", "type": "nominal", "scale": {"domain": ["Sf", "Pa"], "range": ["#000000", "#ff0000"]}, "legend": null}}},
  {"data": {"name": "means"}, "transform": [{"filter": "datum.p === 'D'"}], "mark": {"type": "tick", "color": "#000", "opacity": 1, "size": 42, "thickness": 3},
   "encoding": {"x": {"field": "g", "type": "nominal"}, "y": {"field": "m", "type": "quantitative"}}},
  {"data": {"name": "means"}, "transform": [{"filter": "datum.p === 'D'"}], "mark": {"type": "rule", "color": "#000", "strokeWidth": 3},
   "encoding": {"x": {"field": "g", "type": "nominal"}, "y": {"field": "lo", "type": "quantitative"}, "y2": {"field": "hi"}}},
  {"data": {"values": [{"s": "***"}]}, "mark": {"type": "text", "color": "#0000ff", "fontSize": 26, "fontWeight": "bold", "baseline": "alphabetic"},
   "encoding": {"x": {"datum": "Pa"}, "y": {"datum": 13.25}, "text": {"field": "s"}}},
  {"data": {"values": [{"s": "(hr)"}]}, "mark": {"type": "text", "color": "#000", "fontSize": 20, "baseline": "alphabetic", "dx": -47},
   "encoding": {"x": {"datum": "Sf"}, "y": {"datum": 16.03}, "text": {"field": "s"}}},
  {"data": {"values": [{"s": "D"}]}, "mark": {"type": "text", "fontSize": 21, "fontWeight": "bold", "color": "#000", "align": "left", "baseline": "alphabetic", "dx": -108},
   "encoding": {"x": {"datum": "Sf"}, "y": {"datum": 15.77}, "text": {"field": "s"}}}
 ]
},
{
 "width": 415, "height": 153,
 "layer": [
  {"data": {"values": [{"s": 14, "e": 24, "lo": 0, "hi": 7}]}, "mark": {"type": "rect", "color": "#969696"},
   "encoding": {
    "x": {"field": "s", "type": "quantitative", "scale": {"domain": [0, 24], "nice": false}, "axis": {"title": null, "tickCount": 120, "labelExpr": "datum.value === 24 ? '(ZT)' : (datum.value % 2 === 0 ? '' + datum.value : '')", "labelAlign": {"condition": {"test": "datum.value === 24", "value": "left"}, "value": "center"}, "labelOverlap": false, "labelFlush": false, "tickSize": 3, "tickWidth": 1.3, "labelPadding": 0}},
    "x2": {"field": "e"},
    "y": {"field": "lo", "type": "quantitative", "scale": {"domain": [0, 7.31], "nice": false}, "axis": {"values": [0, 1, 2, 3, 4, 5, 6, 7], "format": "d", "tickCount": 30, "labelOverlap": false, "domain": false, "tickSize": 5, "labelPadding": 2, "title": ["Waking activity", "(cm/ sec)"], "titleX": -62, "titleY": 80, "titleAngle": -90, "titleAlign": "center", "titleBaseline": "middle", "titleLineHeight": 21}},
    "y2": {"field": "hi"}}},
  {"data": {"name": "ts"}, "mark": {"type": "rule", "strokeWidth": 1.5},
   "encoding": {"x": {"field": "t", "type": "quantitative"}, "y": {"field": "f", "type": "quantitative"}, "y2": {"field": "fu"},
    "color": {"datum": "Pachón cavefish", "type": "nominal", "scale": {"domain": ["Surface fish", "Pachón cavefish"], "range": ["#000000", "#ff0000"]}, "legend": null}}},
  {"data": {"name": "ts"}, "mark": {"type": "line", "strokeWidth": 3.5, "strokeJoin": "round"},
   "encoding": {"x": {"field": "t", "type": "quantitative"}, "y": {"field": "f", "type": "quantitative"}, "color": {"datum": "Pachón cavefish", "type": "nominal"}}},
  {"data": {"name": "ts"}, "mark": {"type": "rule", "strokeWidth": 1.5},
   "encoding": {"x": {"field": "t", "type": "quantitative"}, "y": {"field": "e", "type": "quantitative"}, "y2": {"field": "eu"}, "color": {"datum": "Surface fish", "type": "nominal"}}},
  {"data": {"name": "ts"}, "mark": {"type": "line", "strokeWidth": 4, "strokeJoin": "round"},
   "encoding": {"x": {"field": "t", "type": "quantitative"}, "y": {"field": "e", "type": "quantitative"}, "color": {"datum": "Surface fish", "type": "nominal"}}},
  {"data": {"values": [{"lo": 0, "hi": 7}]}, "mark": {"type": "rule", "color": "#000", "strokeWidth": 2.5},
   "encoding": {"x": {"datum": 0}, "y": {"field": "lo", "type": "quantitative"}, "y2": {"field": "hi"}}},
  {"data": {"values": [{"s": "E"}]}, "mark": {"type": "text", "fontSize": 21, "fontWeight": "bold", "color": "#000", "align": "left", "baseline": "alphabetic", "dx": -71},
   "encoding": {"x": {"datum": 0}, "y": {"datum": 7.80}, "text": {"field": "s"}}}
 ]
},
{
 "width": 108, "height": 153,
 "layer": [
  {"data": {"name": "dots"}, "transform": [{"filter": "datum.p === 'F'"}], "mark": {"type": "circle", "size": 18, "opacity": 1},
   "encoding": {
    "x": {"field": "g", "type": "nominal", "sort": ["Sf", "Pa"], "scale": {"domain": ["Sf", "Pa"], "paddingInner": 0, "paddingOuter": 0.04}, "axis": {"title": null, "ticks": false, "labelAngle": 0, "labelPadding": 1, "labelFontSize": 21, "labelColor": {"condition": {"test": "datum.value === 'Pa'", "value": "#ff0000"}, "value": "#000000"}}},
    "xOffset": {"field": "j", "type": "quantitative", "scale": {"domain": [-1, 1]}},
    "y": {"field": "v", "type": "quantitative", "scale": {"domain": [-0.207, 7.71], "nice": false, "zero": false}, "axis": {"values": [0, 1, 2, 3, 4, 5, 6, 7], "format": "d", "tickCount": 30, "labelOverlap": false, "tickSize": 4, "labelFontSize": 17, "labelPadding": 2, "title": "Waking activity", "titleFontSize": 20, "titleX": -60, "titleY": 73, "titleAngle": -90, "titleAlign": "center", "titleBaseline": "middle"}},
    "color": {"field": "g", "type": "nominal", "scale": {"domain": ["Sf", "Pa"], "range": ["#000000", "#ff0000"]}, "legend": null}}},
  {"data": {"name": "means"}, "transform": [{"filter": "datum.p === 'F'"}], "mark": {"type": "tick", "color": "#000", "opacity": 1, "size": 42, "thickness": 3},
   "encoding": {"x": {"field": "g", "type": "nominal"}, "y": {"field": "m", "type": "quantitative"}}},
  {"data": {"name": "means"}, "transform": [{"filter": "datum.p === 'F'"}], "mark": {"type": "rule", "color": "#000", "strokeWidth": 3},
   "encoding": {"x": {"field": "g", "type": "nominal"}, "y": {"field": "lo", "type": "quantitative"}, "y2": {"field": "hi"}}},
  {"data": {"values": [{"s": "n.s."}]}, "mark": {"type": "text", "color": "#0000ff", "fontSize": 24, "fontWeight": "bold", "baseline": "alphabetic", "dx": -27},
   "encoding": {"x": {"datum": "Pa"}, "y": {"datum": 6.62}, "text": {"field": "s"}}},
  {"data": {"values": [{"s": "(cm/ sec)"}]}, "mark": {"type": "text", "color": "#000", "fontSize": 20, "baseline": "alphabetic", "dx": -35},
   "encoding": {"x": {"datum": "Sf"}, "y": {"datum": 8.43}, "text": {"field": "s"}}},
  {"data": {"values": [{"s": "F"}]}, "mark": {"type": "text", "fontSize": 21, "fontWeight": "bold", "color": "#000", "align": "left", "baseline": "alphabetic", "dx": -108},
   "encoding": {"x": {"datum": "Sf"}, "y": {"datum": 8.227}, "text": {"field": "s"}}}
 ]
}
]
}
